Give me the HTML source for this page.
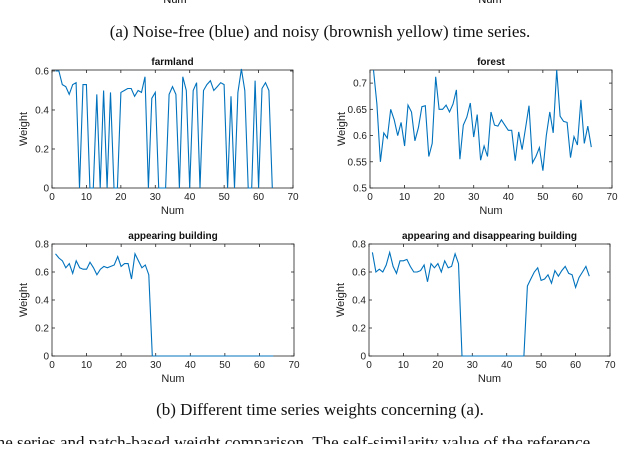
<!DOCTYPE html>
<html><head><meta charset="utf-8"><style>
body{margin:0;background:#fff;width:640px;height:444px;overflow:hidden}
svg text{font-family:"Liberation Sans",sans-serif}
.cap{font-family:"Liberation Serif",serif;font-size:17px;fill:#111}
</style></head><body>
<svg id="fig" width="640" height="444" xmlns="http://www.w3.org/2000/svg">
<text x="175" y="3" font-size="11" text-anchor="middle">Num</text>
<text x="490" y="3" font-size="11" text-anchor="middle">Num</text>
<text class="cap" x="320" y="37" text-anchor="middle">(a) Noise-free (blue) and noisy (brownish yellow) time series.</text>
<text class="cap" x="320" y="415" text-anchor="middle">(b) Different time series weights concerning (a).</text>
<text class="cap" x="-8" y="448">me series and patch-based weight comparison. The self-similarity value of the reference</text>
</svg>
<script>
const farmland=[.60,.60,.53,.52,.48,.53,.54,0,.53,.53,0,0,.48,0,.50,0,.49,0,0,.49,.50,.51,.51,.47,.50,.49,.57,0,.46,.49,0,0,0,.48,.52,.48,0,.57,.50,0,.50,.54,0,.50,.53,.55,.50,.52,.54,.53,0,.47,0,.49,.61,.50,0,0,.55,0,.51,.54,.50,0];
const forest=[.725,.66,.55,.605,.595,.65,.63,.60,.625,.58,.658,.645,.59,.615,.655,.657,.56,.585,.712,.65,.65,.658,.645,.66,.687,.555,.62,.635,.662,.597,.64,.553,.58,.56,.645,.62,.618,.63,.62,.61,.61,.552,.607,.573,.615,.657,.548,.56,.577,.533,.60,.645,.605,.725,.637,.627,.625,.558,.598,.582,.668,.585,.618,.578];
const appearing=[.73,.70,.68,.63,.66,.59,.68,.63,.62,.62,.67,.63,.58,.62,.64,.63,.64,.65,.71,.64,.66,.66,.55,.73,.68,.63,.65,.58,0,0,0,0,0,0,0,0,0,0,0,0,0,0,0,0,0,0,0,0,0,0,0,0,0,0,0,0,0,0,0,0,0,0,0,0];
const appDis=[.74,.60,.62,.60,.65,.74,.64,.59,.68,.68,.69,.64,.60,.60,.61,.65,.53,.66,.63,.66,.60,.68,.63,.64,.73,.66,0,0,0,0,0,0,0,0,0,0,0,0,0,0,0,0,0,0,0,.50,.55,.60,.63,.54,.55,.58,.52,.61,.57,.61,.64,.59,.58,.49,.56,.60,.64,.57];
const xTicks=[0,10,20,30,40,50,60,70];
const yTicksA=[0,0.2,0.4,0.6];
const yTicksF=[0.5,0.55,0.6,0.65,0.7];
const yTicksB=[0,0.2,0.4,0.6,0.8];
const titles=["farmland","forest","appearing building","appearing and disappearing building"];

const svg=document.getElementById('fig');
const NS="http://www.w3.org/2000/svg";
function mk(tag,attrs,parent){const e=document.createElementNS(NS,tag);for(const k in attrs)e.setAttribute(k,attrs[k]);(parent||svg).appendChild(e);return e;}
function panel(id,L,R,T,B,ymin,ymax,yT,data,title,fmt){
  const g=mk('g',{});
  
  
  const sx=v=>L+(v-0)/70*(R-L);
  const sy=v=>B-(v-ymin)/(ymax-ymin)*(B-T);
  const box=mk('rect',{x:L,y:T,width:R-L,height:B-T,fill:'none',stroke:'#222','stroke-width':0.8},g);
  
  
  xTicks.forEach(t=>{
    const x=sx(t);
    mk('line',{x1:x,x2:x,y1:B,y2:B-3,stroke:'#222','stroke-width':0.8},g);
    mk('line',{x1:x,x2:x,y1:T,y2:T+3,stroke:'#222','stroke-width':0.8},g);
    const tx=mk('text',{x:x,y:B+12,'font-size':10,'text-anchor':'middle',fill:'#222'},g);
    tx.textContent=t;
    
    
  });
  yT.forEach(t=>{
    const y=sy(t);
    mk('line',{x1:L,x2:L+3,y1:y,y2:y,stroke:'#222','stroke-width':0.8},g);
    mk('line',{x1:R,x2:R-3,y1:y,y2:y,stroke:'#222','stroke-width':0.8},g);
    const tx=mk('text',{x:L-3,y:y+3.5,'font-size':10,'text-anchor':'end',fill:'#222'},g);
    tx.textContent=fmt(t);
    
    
  });
  const tt=mk('text',{x:(L+R)/2,y:T-5,'font-size':10,'font-weight':'bold','text-anchor':'middle',fill:'#111'},g);
  tt.textContent=title;
  
  
  const yl=mk('text',{x:0,y:0,'font-size':11,'text-anchor':'middle',fill:'#222',transform:`translate(${L-25},${(T+B)/2}) rotate(-90)`},g);
  yl.textContent='Weight';
  
  
  const xl=mk('text',{x:(L+R)/2,y:B+26,'font-size':11,'text-anchor':'middle',fill:'#222'},g);
  xl.textContent='Num';
  
  
  const pts=data.map((v,i)=>sx(i+1).toFixed(1)+','+sy(v).toFixed(1)).join(' ');
  const pl=mk('polyline',{points:pts,fill:'none',stroke:'#0072bd','stroke-width':1.1},g);
  
  
}
const f1=v=>v===0?'0':v.toFixed(1);
const f2=v=>v===0.5?'0.5':(Math.round(v*100)%10===0?v.toFixed(1):v.toFixed(2));
panel('farmland',52,293,70,188,0,0.605,yTicksA,farmland,titles[0],f1);
panel('forest',370,612,70,188,0.5,0.725,yTicksF,forest,titles[1],f2);
panel('appearing',52,294,244,356,0,0.8,yTicksB,appearing,titles[2],f1);
panel('appdis',369,610,244,356,0,0.8,yTicksB,appDis,titles[3],f1);
</script>
</body></html>
